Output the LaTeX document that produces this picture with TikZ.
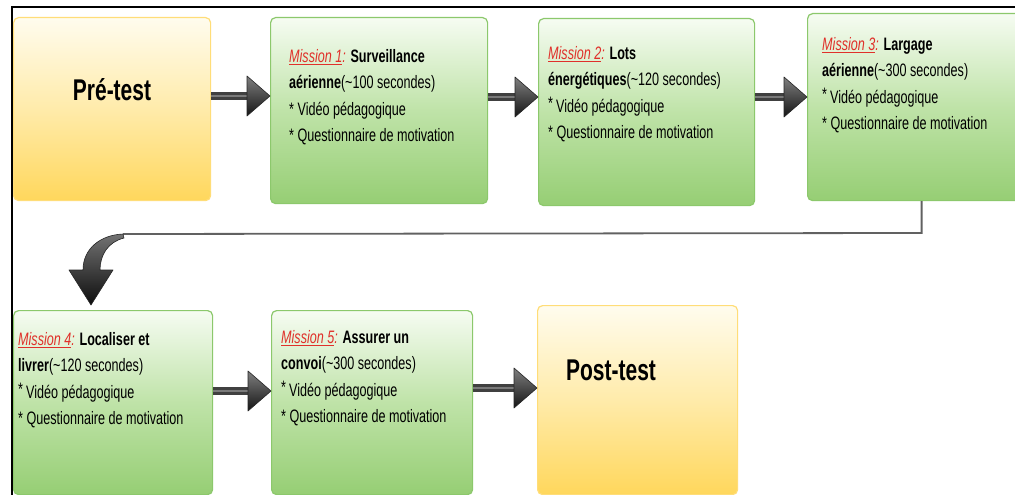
\documentclass[tikz,border=0pt]{standalone}
\usepackage{fontspec}
\setmainfont[FakeStretch=0.70]{Liberation Sans}
\usetikzlibrary{calc}

\definecolor{mred}{HTML}{E0302A}
\definecolor{gtop}{HTML}{F6FCF2}
\definecolor{gmid}{HTML}{BFE3A8}
\definecolor{gbot}{HTML}{96CE74}
\definecolor{gedge}{HTML}{8CC86C}
\definecolor{ytop}{HTML}{FFFCEE}
\definecolor{ymid}{HTML}{FFEBAA}
\definecolor{ybot}{HTML}{FFD75C}
\definecolor{yedge}{HTML}{FFDD78}

% red italic underlined mission label
\newcommand\mlabel[1]{{\color{mred}\itshape\underline{#1}:}}
% raised bullet asterisk
\newcommand\upstar{\raisebox{3pt}{*}\,}

% thick grey block arrow between two boxes at height #3
\newcommand\flowarrow[3]{%
  \coordinate (fa-s) at (#1.east |- 0,#3);
  \coordinate (fa-e) at (#2.west |- 0,#3);
  \draw[shaft] (fa-s) -- ($(fa-e)+(-20,0)$);
  \draw[shaftlight] (fa-s) -- ($(fa-e)+(-20,0)$);
  \shade[arrowhead] ($(fa-e)+(-23,-20)$) -- (fa-e) -- ($(fa-e)+(-23,20)$) -- cycle;
}

\tikzset{
  box/.style={anchor=north west, rounded corners=5pt, inner sep=0pt, line width=1.2pt},
  greenbox/.style={box, draw=gedge, top color=gtop, bottom color=gbot, middle color=gmid},
  yellowbox/.style={box, draw=yedge, top color=ytop, bottom color=ybot, middle color=ymid},
  mtext/.style={anchor=north west, inner sep=0pt, align=left,
    font=\fontsize{18}{26.5}\selectfont},
  testtext/.style={inner sep=0pt, font=\fontsize{30}{34}\selectfont\bfseries},
  shaft/.style={line width=7.5pt, black!75},
  shaftlight/.style={line width=2.5pt, black!52},
  arrowhead/.style={top color=black!50, bottom color=black!92, draw=black!85,
    line width=0.6pt, line join=round},
  connline/.style={line width=1.8pt, black!62},
}

\begin{document}
\begin{tikzpicture}[x=1pt, y=-1pt]
  \useasboundingbox (0,0) rectangle (1015,495);
  \clip (0,0) rectangle (1015,495);
  \fill[white] (0,0) rectangle (1015,495);

  % outer frame
  \draw[line width=2.2pt] (12,505) -- (12,7) -- (1025,7);

  % boxes, top row
  \node[yellowbox, minimum width=197pt, minimum height=183pt] (pre) at (13,17) {};
  \node[greenbox, minimum width=217pt, minimum height=186pt] (m1) at (270,17) {};
  \node[greenbox, minimum width=216pt, minimum height=187pt] (m2) at (538,18) {};
  \node[greenbox, minimum width=228pt, minimum height=187pt] (m3) at (807,13) {};

  % boxes, bottom row
  \node[greenbox, minimum width=199pt, minimum height=184pt] (m4) at (13,310) {};
  \node[greenbox, minimum width=201pt, minimum height=184pt] (m5) at (271,310) {};
  \node[yellowbox, minimum width=200pt, minimum height=189pt] (post) at (537,305) {};

  % texts
  \node[testtext] (pret) at (112,90) {Pré-test};
  \node[testtext] (postt) at (611,370) {Post-test};

  \node[mtext] (m1t) at (289,48) {\rule{0pt}{14pt}\mlabel{Mission 1} \textbf{Surveillance}\\
    \textbf{aérienne}(\textasciitilde100 secondes)\\
    * Vidéo pédagogique\\
    * Questionnaire de motivation};
  \node[mtext] (m2t) at (548,45) {\rule{0pt}{14pt}\mlabel{Mission 2} \textbf{Lots}\\
    \textbf{énergétiques}(\textasciitilde120 secondes)\\
    \upstar Vidéo pédagogique\\
    * Questionnaire de motivation};
  \node[mtext] (m3t) at (822,36) {\rule{0pt}{14pt}\mlabel{Mission 3} \textbf{Largage}\\
    \textbf{aérienne}(\textasciitilde300 secondes)\\
    \upstar Vidéo pédagogique\\
    * Questionnaire de motivation};
  \node[mtext] (m4t) at (18,331) {\rule{0pt}{14pt}\mlabel{Mission 4} \textbf{Localiser et}\\
    \textbf{livrer}(\textasciitilde120 secondes)\\
    \upstar Vidéo pédagogique\\
    * Questionnaire de motivation};
  \node[mtext] (m5t) at (281,329) {\rule{0pt}{14pt}\mlabel{Mission 5} \textbf{Assurer un}\\
    \textbf{convoi}(\textasciitilde300 secondes)\\
    \upstar Vidéo pédagogique\\
    * Questionnaire de motivation};

  % arrows along the rows
  \flowarrow{pre}{m1}{96}
  \flowarrow{m1}{m2}{97}
  \flowarrow{m2}{m3}{97}
  \flowarrow{m4}{m5}{391}
  \flowarrow{m5}{post}{388}

  % return connector from mission 3 down to mission 4
  \coordinate (turn) at (m3.south |- 0,233);
  \coordinate (cstart) at (123,234);
  \draw[connline] (m3.south) -- (turn) -- (cstart);
  \coordinate (tip) at (91,305);
  \shade[arrowhead, top color=black!55, bottom color=black!95]
    (cstart) .. controls (100,235) and (83,249) .. (83,270)
    -- (69,270) -- (tip) -- (113,270) -- (100,270)
    .. controls (100,255) and (108,242) .. (124,238) -- cycle;
\end{tikzpicture}
\end{document}
